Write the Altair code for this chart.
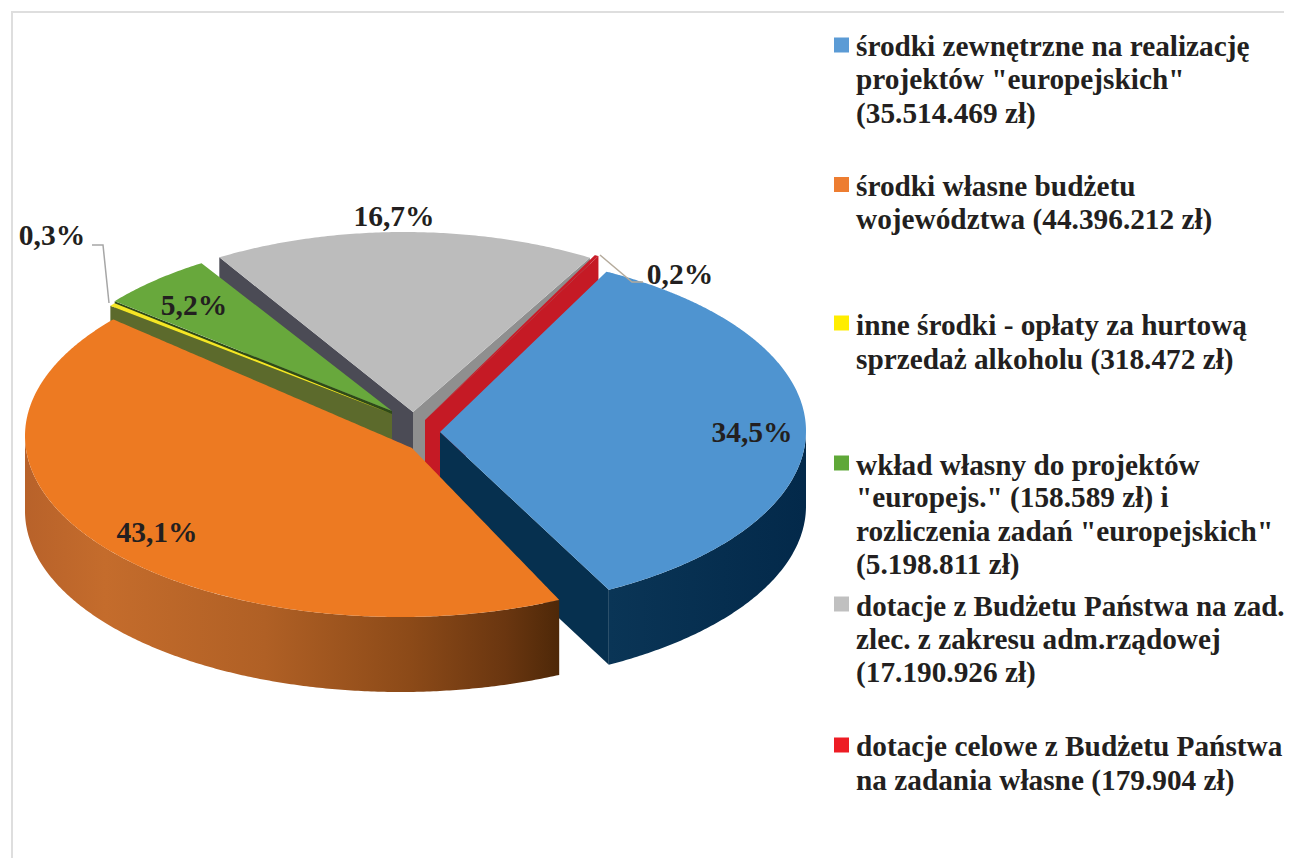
import math
import altair as alt
import pandas as pd

# ---------- values ----------
slice_names = ["zewn", "wlasne", "inne", "wklad", "dotacje", "celowe"]
slice_amounts = [35514469, 44396212, 318472, 5357400, 17190926, 179904]

pct_labels = ["34,5%", "43,1%", "0,3%", "5,2%", "16,7%", "0,2%"]

legend_lines = [
    ["środki zewnętrzne na realizację", 'projektów "europejskich"', "(35.514.469 zł)"],
    ["środki własne budżetu", "województwa (44.396.212 zł)"],
    ["inne środki - opłaty za hurtową", "sprzedaż alkoholu (318.472 zł)"],
    ["wkład własny do projektów", '"europejs."  (158.589 zł) i',
     'rozliczenia zadań "europejskich"', "(5.198.811 zł)"],
    ["dotacje z Budżetu Państwa na zad.", "zlec. z zakresu adm.rządowej", "(17.190.926 zł)"],
    ["dotacje celowe z Budżetu Państwa", "na zadania własne (179.904 zł)"],
]

# ---------- layout and style (reference pixels) ----------
top_colors = ["#4f94d0", "#ed7a22", "#f5e625", "#68a83c", "#bcbcbc", "#c91c28"]
legend_colors = ["#5b9bd5", "#ed7d31", "#ffed00", "#5fa838", "#c0c0c0", "#ed1c24"]
apexes = [(440, 432), (412, 448), (392, 414), (392, 411), (413, 412), (425, 420)]
centers = [(433, 431), (400, 436), (392, 414), (392, 412), (404, 422), (425, 420)]
radii = [(373, 180), (375, 181), (357, 176), (357, 176), (370, 190), (382, 184)]
rotations = [62.3, 59.3, 61.5, 61.5, 59.2, 63.0]
DEPTH = 75
label_xy = [(752, 433), (157, 533), (52, 236), (194, 306), (394, 217), (680, 275)]
legend_line_y = [[47, 80, 114], [187, 220], [326, 360], [466, 498, 532, 565], [607, 640, 673], [747, 781]]
legend_square_y = [45, 184.5, 323, 463, 604, 745]
leaders = [[(92, 245), (103, 245), (109, 303)], [(600, 255), (632, 282), (643, 282)]]
leader_colors = ["#a6a6a6", "#b5ab9c"]
LEGEND_FONT = 29.3
LONG_LINE_FONT = 29.0  # the longest line has to end inside the page's drawable box

X = alt.X("x:Q", scale=alt.Scale(domain=[8, 1284], nice=False, zero=False), axis=None)
Y = alt.Y("y:Q", scale=alt.Scale(domain=[858, 8], nice=False, zero=False), axis=None)

total = sum(slice_amounts)
fracs = [v / total for v in slice_amounts]
cum = [sum(fracs[:i]) for i in range(len(fracs))]


def pt(i, ang):
    cx, cy = centers[i]
    a, b = radii[i]
    return (cx + a * math.cos(math.radians(ang)), cy - b * math.sin(math.radians(ang)))


def angles(i):
    start = rotations[i] - 360 * cum[i]
    return start, start - 360 * fracs[i]


def arc(i, a0, a1):
    n = max(8, int(abs(a1 - a0) * 2))
    return [pt(i, a0 + (a1 - a0) * k / n) for k in range(n + 1)]


def spans(poly):
    xs = sorted({round(p[0], 3) for p in poly})
    rows = []
    m = len(poly)
    for x in xs:
        ys = []
        for k in range(m):
            (ax, ay), (bx, by) = poly[k], poly[(k + 1) % m]
            ax, bx = round(ax, 3), round(bx, 3)
            if min(ax, bx) <= x <= max(ax, bx):
                if ax == bx:
                    ys += [ay, by]
                else:
                    ys.append(ay + (by - ay) * (x - ax) / (bx - ax))
        rows.append({"x": x, "y": min(ys), "y2": max(ys)})
    return pd.DataFrame(rows)


def area(poly, color):
    return alt.Chart(spans(poly)).mark_area(color=color, strokeWidth=0, clip=False).encode(
        x=X, y=Y, y2=alt.Y2("y2:Q")
    )


def top(i):
    s, e = angles(i)
    return area([apexes[i]] + arc(i, s, e), top_colors[i])


def cut(i, ang, color):
    p = pt(i, ang)
    c = apexes[i]
    return area([c, p, (p[0], p[1] + DEPTH), (c[0], c[1] + DEPTH)], color)


def rim(i, a0, a1, color):
    upper = arc(i, a0, a1)
    lower = [(x, y + DEPTH) for x, y in reversed(upper)]
    return area(upper + lower, color)


def grad(stops):
    return alt.Gradient(
        gradient="linear",
        x1=0, x2=1, y1=0, y2=0,
        stops=[alt.GradientStop(offset=o, color=c) for o, c in stops],
    )


layers = []

# frame
frame = pd.DataFrame({"x": [12, 12, 1284], "y": [858, 12, 12], "o": [0, 1, 2]})
layers.append(alt.Chart(frame).mark_line(color="#dedede", strokeWidth=2).encode(x=X, y=Y, order="o:Q"))

# grey slice (back)
gs, ge = angles(4)
layers += [cut(4, gs, "#4b4b55"), cut(4, ge, "#8f8f8f"), top(4)]
# green slice
ws, we = angles(3)
layers += [cut(3, ws, "#2f4a18"), top(3)]
# yellow slice
ys_, ye_ = angles(2)
layers += [cut(2, ys_, "#5c6a2c"), top(2)]
# red slice
rs, re_ = angles(5)
layers += [cut(5, re_, "#c51a25"), top(5)]
# blue slice
bs, be = angles(0)
blue_wall = "#06304f"
layers += [cut(0, be, blue_wall), rim(0, 0, be, grad([(0, "#0a3556"), (1, "#03294a")])), top(0)]
# orange slice
os_, oe = angles(1)
layers += [
    rim(1, -180, os_, grad([(0, "#b8622a"), (0.15, "#c46c2c"), (0.45, "#b06025"),
                            (0.72, "#8c4a18"), (0.9, "#6a3610"), (1, "#4e2808")])),
    top(1),
]

# leaders
for pts, col in zip(leaders, leader_colors):
    df = pd.DataFrame({"x": [p[0] for p in pts], "y": [p[1] for p in pts], "o": [0, 1, 2]})
    layers.append(alt.Chart(df).mark_line(color=col, strokeWidth=1.5).encode(x=X, y=Y, order="o:Q"))

# percent labels
pct_df = pd.DataFrame({"x": [p[0] for p in label_xy], "y": [p[1] for p in label_xy], "t": pct_labels})
layers.append(
    alt.Chart(pct_df)
    .mark_text(font="Liberation Serif", fontWeight="bold", fontSize=29.5, color="#231f20",
               align="center", baseline="middle")
    .encode(x=X, y=Y, text="t:N")
)

# legend squares
sq_df = pd.DataFrame({"x": [841.5] * 6, "y": legend_square_y, "c": legend_colors})
layers.append(
    alt.Chart(sq_df)
    .mark_square(size=225, opacity=1, strokeWidth=0)
    .encode(x=X, y=Y, color=alt.Color("c:N", scale=None))
)

# legend text
rows = []
for lines, ys in zip(legend_lines, legend_line_y):
    for line, y in zip(lines, ys):
        rows.append({"x": 856, "y": y, "t": line,
                     "s": LONG_LINE_FONT if line.startswith("dotacje z") else LEGEND_FONT})
layers.append(
    alt.Chart(pd.DataFrame(rows))
    .mark_text(font="Liberation Serif", fontWeight="bold", color="#231f20",
               align="left", baseline="middle")
    .encode(x=X, y=Y, text="t:N", size=alt.Size("s:Q", scale=None))
)

chart = (
    alt.layer(*layers)
    .properties(width=1276, height=850, padding=0, autosize=alt.AutoSizeParams(type="none"),
                background="white")
    .configure_view(stroke=None)
)
chart.save("out.html", embed_options={"renderer": "svg", "actions": False})
